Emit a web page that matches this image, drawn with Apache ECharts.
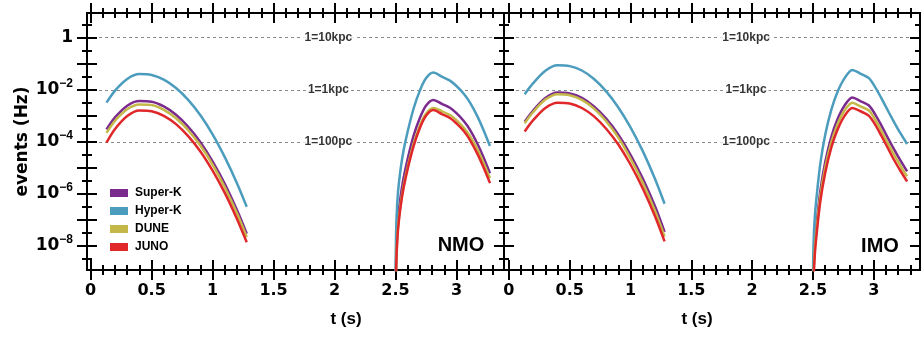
<!DOCTYPE html>
<html><head><meta charset="utf-8">
<script src="https://cdn.jsdelivr.net/npm/echarts@6/dist/echarts.min.js"></script>
<style>html,body{margin:0;padding:0;background:#fff}#c{width:922px;height:337px}</style>
</head><body><div id="c"></div>
<script>
// ---------- data ----------
const detectors = ['Super-K', 'Hyper-K', 'DUNE', 'JUNO'];
const detectorColors = ['#7b2a8e', '#4b9cbd', '#c4b948', '#e0282b'];

const tEarly = [0.13, 0.2, 0.3, 0.4, 0.5, 0.6, 0.7, 0.8, 0.9, 1.0, 1.1, 1.2, 1.28];
const tLateNMO = [2.5, 2.505, 2.515, 2.53, 2.56, 2.6, 2.65, 2.7, 2.75, 2.81, 2.88, 2.95, 3.0, 3.06, 3.11, 3.17, 3.22, 3.275];
const tLateIMO = [2.5, 2.505, 2.515, 2.53, 2.56, 2.6, 2.65, 2.7, 2.76, 2.823, 2.89, 2.96, 3.01, 3.06, 3.11, 3.16, 3.22, 3.274];

// NMO panel (events per second, Hz)
const nmoSuperKEarly = [3.0e-4, 8.7e-4, 2.45e-3, 3.7e-3, 3.5e-3, 2.3e-3, 1.1e-3, 3.8e-4, 9.8e-5, 1.8e-5, 2.45e-6, 2.4e-7, 3.0e-8];
const nmoHyperKEarly = [3.2e-3, 9.3e-3, 2.6e-2, 4.0e-2, 3.7e-2, 2.45e-2, 1.17e-2, 4.1e-3, 1.05e-3, 1.95e-4, 2.6e-5, 2.6e-6, 3.2e-7];
const nmoDuneEarly = [2.2e-4, 6.5e-4, 1.8e-3, 2.75e-3, 2.6e-3, 1.7e-3, 8.1e-4, 2.8e-4, 7.2e-5, 1.35e-5, 1.8e-6, 1.8e-7, 2.2e-8];
const nmoJunoEarly = [9.3e-5, 3.1e-4, 9.8e-4, 1.6e-3, 1.5e-3, 1.0e-3, 4.8e-4, 1.66e-4, 4.3e-5, 7.9e-6, 1.1e-6, 1.1e-7, 1.4e-8];

const nmoSuperKLate = [2.8e-11, 2.8e-9, 4.5e-8, 2.8e-7, 2.8e-6, 2.2e-5, 1.8e-4, 8.3e-4, 2.45e-3, 4.1e-3, 2.9e-3, 2.0e-3, 1.26e-3, 6.3e-4, 2.95e-4, 8.9e-5, 2.7e-5, 6.2e-6];
const nmoHyperKLate = [3.2e-10, 3.2e-8, 5.0e-7, 3.2e-6, 3.2e-5, 2.5e-4, 2.0e-3, 9.3e-3, 2.75e-2, 4.6e-2, 3.2e-2, 2.2e-2, 1.4e-2, 7.1e-3, 3.3e-3, 1.0e-3, 3.0e-4, 6.9e-5];
const nmoDuneLate = [1.4e-11, 1.4e-9, 2.2e-8, 1.4e-7, 1.4e-6, 1.1e-5, 8.9e-5, 4.2e-4, 1.2e-3, 2.0e-3, 1.5e-3, 1.05e-3, 6.8e-4, 3.5e-4, 1.7e-4, 5.4e-5, 1.66e-5, 4.0e-6];
const nmoJunoLate = [1.15e-11, 1.15e-9, 1.8e-8, 1.15e-7, 1.15e-6, 9.1e-6, 7.2e-5, 3.4e-4, 1.0e-3, 1.66e-3, 1.17e-3, 8.1e-4, 5.1e-4, 2.6e-4, 1.2e-4, 3.6e-5, 1.1e-5, 2.6e-6];

// IMO panel
const imoSuperKEarly = [6.0e-4, 1.6e-3, 4.8e-3, 7.8e-3, 7.2e-3, 4.9e-3, 2.3e-3, 7.8e-4, 1.9e-4, 3.2e-5, 4.0e-6, 3.5e-7, 3.5e-8];
const imoHyperKEarly = [6.8e-3, 1.8e-2, 5.4e-2, 8.7e-2, 8.1e-2, 5.5e-2, 2.6e-2, 8.7e-3, 2.1e-3, 3.6e-4, 4.5e-5, 3.9e-6, 4.2e-7];
const imoDuneEarly = [5.2e-4, 1.4e-3, 4.2e-3, 6.8e-3, 6.2e-3, 4.1e-3, 1.9e-3, 6.2e-4, 1.45e-4, 2.3e-5, 2.75e-6, 2.3e-7, 2.3e-8];
const imoJunoEarly = [2.5e-4, 6.8e-4, 2.0e-3, 3.2e-3, 3.0e-3, 2.0e-3, 9.5e-4, 3.2e-4, 7.9e-5, 1.35e-5, 1.66e-6, 1.45e-7, 1.5e-8];

const imoSuperKLate = [5.6e-11, 1.1e-9, 1.1e-8, 7.1e-8, 1.26e-6, 1.6e-5, 1.5e-4, 7.1e-4, 2.5e-3, 5.1e-3, 3.7e-3, 2.5e-3, 1.17e-3, 4.5e-4, 1.6e-4, 5.9e-5, 1.9e-5, 7.4e-6];
const imoHyperKLate = [6.3e-10, 1.26e-8, 1.26e-7, 7.9e-7, 1.4e-5, 1.8e-4, 1.66e-3, 7.9e-3, 2.8e-2, 5.8e-2, 4.2e-2, 2.8e-2, 1.3e-2, 5.0e-3, 1.8e-3, 6.6e-4, 2.1e-4, 8.3e-5];
const imoDuneLate = [3.5e-11, 7.1e-10, 7.1e-9, 4.5e-8, 7.9e-7, 1.0e-5, 9.3e-5, 4.5e-4, 1.6e-3, 3.2e-3, 2.3e-3, 1.6e-3, 7.4e-4, 2.8e-4, 1.0e-4, 3.7e-5, 1.2e-5, 4.7e-6];
const imoJunoLate = [2.2e-11, 4.5e-10, 4.5e-9, 2.8e-8, 5.0e-7, 6.3e-6, 5.9e-5, 2.8e-4, 1.0e-3, 2.0e-3, 1.5e-3, 1.0e-3, 4.7e-4, 1.8e-4, 6.5e-5, 2.3e-5, 7.6e-6, 3.0e-6];

// ticks and reference lines
const xMajorTicks = [0, 0.5, 1, 1.5, 2, 2.5, 3];
const xMinorTicks = [0.1, 0.2, 0.3, 0.4, 0.6, 0.7, 0.8, 0.9, 1.1, 1.2, 1.3, 1.4, 1.6, 1.7, 1.8, 1.9, 2.1, 2.2, 2.3, 2.4, 2.6, 2.7, 2.8, 2.9, 3.1, 3.2, 3.3];
const yMajorTicks = [1e-8, 1e-7, 1e-6, 1e-5, 1e-4, 1e-3, 1e-2, 1e-1, 1];
const yMinorTicks = [3.162e-9, 3.162e-8, 3.162e-7, 3.162e-6, 3.162e-5, 3.162e-4, 3.162e-3, 3.162e-2, 3.162e-1, 3.162];
const yLabelTicks = [1e-8, 1e-6, 1e-4, 1e-2, 1];
const distanceLines = [1, 1e-2, 1e-4];
const distanceLabels = ['1=10kpc', '1=1kpc', '1=100pc'];
const panelNames = ['NMO', 'IMO'];

// ---------- layout / style ----------
const xRanges = [[-0.03, 3.39], [-0.04, 3.38]];
const yRange = [1.2e-9, 8.9];
const labelT = 1.95;
const BOLD_NUM = 'DejaVu Sans';
const SANS = 'Liberation Sans';

function tickAxis(kind, grid, position, range, ticks, len, inside, extra) {
  const ax = {
    type: kind, gridIndex: grid, position: position, min: range[0], max: range[1],
    axisLine: { show: true, onZero: false, lineStyle: { color: '#000', width: 2 } },
    axisTick: { show: true, inside: inside, length: len, customValues: ticks, lineStyle: { color: '#000', width: 2 } },
    axisLabel: { show: false },
    splitLine: { show: false },
    minorTick: { show: false },
    minorSplitLine: { show: false }
  };
  if (kind === 'log') ax.logBase = 10;
  return Object.assign(ax, extra || {});
}

const xAxes = [];
const xAxisStart = [];
[0, 1].forEach(g => {
  xAxisStart.push(xAxes.length);
  const r = xRanges[g];
  xAxes.push(tickAxis('value', g, 'bottom', r, xMajorTicks, 10, false, {
    axisLabel: { show: true, customValues: xMajorTicks, margin: 13, color: '#000',
      fontFamily: BOLD_NUM, fontWeight: 'bold', fontSize: 16 }
  }));
  xAxes.push(tickAxis('value', g, 'bottom', r, xMajorTicks, 10, true));
  xAxes.push(tickAxis('value', g, 'bottom', r, xMinorTicks, 5, false));
  xAxes.push(tickAxis('value', g, 'bottom', r, xMinorTicks, 5, true));
  xAxes.push(tickAxis('value', g, 'top', r, xMajorTicks, 10, false));
  xAxes.push(tickAxis('value', g, 'top', r, xMajorTicks, 10, true));
  xAxes.push(tickAxis('value', g, 'top', r, xMinorTicks, 5, false));
  xAxes.push(tickAxis('value', g, 'top', r, xMinorTicks, 5, true));
});

function yLabelFmt(v) {
  const e = Math.round(Math.log10(v));
  if (e === 0) return '{b|1}';
  return '{b|10}{s|\u2212' + (-e) + '}';
}

const gridLineStyle = { show: true, lineStyle: { color: '#8a8a8a', width: 1, type: [3, 3] } };

const yAxes = [];
const yAxisStart = [];
// left panel
yAxisStart.push(yAxes.length);
yAxes.push(tickAxis('log', 0, 'left', yRange, yMajorTicks, 10, false, {
  name: 'events (Hz)', nameLocation: 'middle', nameGap: 56,
  nameTextStyle: { fontFamily: BOLD_NUM, fontWeight: 'bold', fontSize: 17, color: '#000' },
  axisLabel: {
    show: true, customValues: yLabelTicks, margin: 14, formatter: yLabelFmt,
    rich: {
      b: { fontFamily: BOLD_NUM, fontWeight: 'bold', fontSize: 17, color: '#000' },
      s: { fontFamily: SANS, fontWeight: 'bold', fontSize: 12, color: '#000', padding: [0, 0, 13, 0] }
    }
  }
}));
yAxes.push(tickAxis('log', 0, 'left', yRange, yMajorTicks, 10, true));
yAxes.push(tickAxis('log', 0, 'left', yRange, yMinorTicks, 5, false));
yAxes.push(tickAxis('log', 0, 'left', yRange, yMinorTicks, 5, true));
yAxes.push(tickAxis('log', 0, 'right', yRange, yMajorTicks, 10, false));
yAxes.push(tickAxis('log', 0, 'right', yRange, yMajorTicks, 10, true));
yAxes.push(tickAxis('log', 0, 'right', yRange, yMinorTicks, 5, false));
yAxes.push(tickAxis('log', 0, 'right', yRange, yMinorTicks, 5, true));
yAxes.push(tickAxis('log', 0, 'left', yRange, distanceLines, 0, true, {
  axisLine: { show: false, onZero: false }, axisTick: { show: false, customValues: distanceLines },
  splitLine: gridLineStyle
}));
// right panel
yAxisStart.push(yAxes.length);
yAxes.push(tickAxis('log', 1, 'right', yRange, yMajorTicks, 10, true));
yAxes.push(tickAxis('log', 1, 'right', yRange, yMinorTicks, 5, true));
yAxes.push(tickAxis('log', 1, 'left', yRange, distanceLines, 0, true, {
  axisLine: { show: false, onZero: false }, axisTick: { show: false, customValues: distanceLines },
  splitLine: gridLineStyle
}));

const panels = [
  { early: [nmoSuperKEarly, nmoHyperKEarly, nmoDuneEarly, nmoJunoEarly], tLate: tLateNMO,
    late: [nmoSuperKLate, nmoHyperKLate, nmoDuneLate, nmoJunoLate] },
  { early: [imoSuperKEarly, imoHyperKEarly, imoDuneEarly, imoJunoEarly], tLate: tLateIMO,
    late: [imoSuperKLate, imoHyperKLate, imoDuneLate, imoJunoLate] }
];

function pairs(ts, vs) { return ts.map((t, i) => [t, vs[i]]); }

const series = [];
panels.forEach((p, g) => {
  detectors.forEach((name, d) => {
    [[tEarly, p.early[d]], [p.tLate, p.late[d]]].forEach(([ts, vs]) => {
      series.push({
        type: 'line', name: name, xAxisIndex: xAxisStart[g], yAxisIndex: yAxisStart[g],
        data: pairs(ts, vs), showSymbol: false, symbol: 'none', smooth: 0.3,
        clip: true, z: 3,
        lineStyle: { color: detectorColors[d], width: 2.5 },
        itemStyle: { color: detectorColors[d] }
      });
    });
  });
  series.push({
    type: 'scatter', name: 'distance-' + g, xAxisIndex: xAxisStart[g], yAxisIndex: yAxisStart[g],
    data: distanceLines.map(v => [labelT, v]), symbolSize: 0, z: 6, silent: true,
    label: {
      show: true, position: 'inside', formatter: q => distanceLabels[q.dataIndex],
      backgroundColor: '#fff', padding: [1, 2], color: '#000',
      fontFamily: SANS, fontWeight: 'bold', fontSize: 12
    }
  });
});

const chart = echarts.init(document.getElementById('c'), null, { renderer: 'canvas' });
chart.setOption({
  animation: false,
  backgroundColor: '#fff',
  grid: [
    { left: 87, top: 13, width: 417, height: 257, outerBoundsMode: 'none', containLabel: false },
    { left: 504, top: 13, width: 416, height: 257, outerBoundsMode: 'none', containLabel: false }
  ],
  xAxis: xAxes,
  yAxis: yAxes,
  legend: {
    data: detectors.map(n => ({ name: n, icon: 'rect' })),
    orient: 'vertical', left: 110, top: 187, padding: 0, itemWidth: 18, itemHeight: 8, itemGap: 6,
    selectedMode: false,
    textStyle: { fontFamily: SANS, fontWeight: 'bold', fontSize: 12, color: '#000', padding: [0, 0, 0, 2] }
  },
  graphic: [
    { type: 'text', x: 461, y: 245, style: { text: panelNames[0], textAlign: 'center', textVerticalAlign: 'middle',
      fontFamily: SANS, fontWeight: 'bold', fontSize: 20, fill: '#000' } },
    { type: 'text', x: 880, y: 246, style: { text: panelNames[1], textAlign: 'center', textVerticalAlign: 'middle',
      fontFamily: SANS, fontWeight: 'bold', fontSize: 20, fill: '#000' } },
    { type: 'text', x: 346, y: 319, style: { text: 't (s)', textAlign: 'center', textVerticalAlign: 'middle',
      fontFamily: SANS, fontWeight: 'bold', fontSize: 17, fill: '#000' } },
    { type: 'text', x: 697, y: 319, style: { text: 't (s)', textAlign: 'center', textVerticalAlign: 'middle',
      fontFamily: SANS, fontWeight: 'bold', fontSize: 17, fill: '#000' } }
  ],
  series: series
});
</script>
</body></html>
